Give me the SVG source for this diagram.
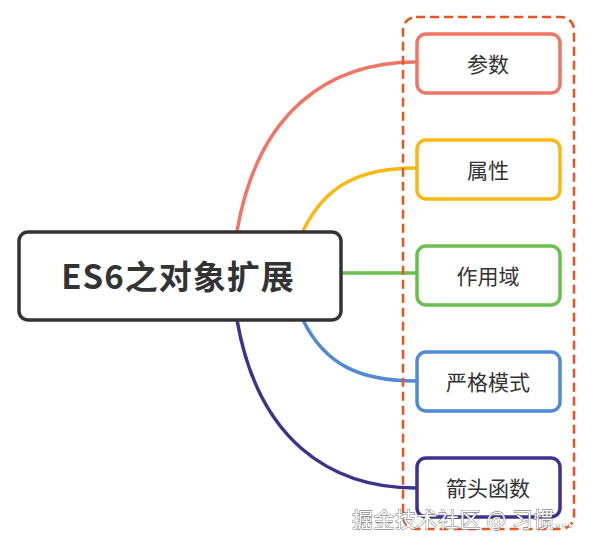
<svg xmlns="http://www.w3.org/2000/svg" width="600" height="547" viewBox="0 0 600 547">
<style>
.n rect{fill:#fff;stroke-width:3.5}
.t{font-family:"Noto Sans CJK SC","Noto Sans",sans-serif;font-size:21px;fill:#333;text-anchor:middle;dominant-baseline:central}
.c path{fill:none;stroke-width:3.5}
</style>
<rect width="600" height="547" fill="#fff"/>
<g id="connectors" class="c">
<path d="M237,231 C258,110 330,62 416,62" stroke="#f07565"/>
<path d="M303,231 C325,185 360,168 416,168" stroke="#f9b812"/>
<path d="M341,273 L416,273" stroke="#6bbf4e"/>
<path d="M303,320 C325,365 360,381 416,381" stroke="#4f8ad7"/>
<path d="M237,320 C258,440 330,488 416,488" stroke="#3c3290"/>
</g>
<g id="main">
<rect x="19" y="232" width="322" height="88" rx="9" fill="#fff" stroke="#333" stroke-width="3.5"/>
<text x="178" y="275" font-family="'Noto Sans CJK SC','Noto Sans',sans-serif" font-size="33" font-weight="bold" fill="#333" text-anchor="middle" dominant-baseline="central" letter-spacing="1">ES6之对象扩展</text>
</g>
<g id="n1" class="n"><rect x="417" y="34" width="143" height="59" rx="9" stroke="#f07565"/><text class="t" x="488" y="63">参数</text></g>
<g id="n2" class="n"><rect x="417" y="140" width="143" height="59" rx="9" stroke="#f9b812"/><text class="t" x="488" y="169">属性</text></g>
<g id="n3" class="n"><rect x="417" y="246" width="143" height="59" rx="9" stroke="#6bbf4e"/><text class="t" x="488" y="275">作用域</text></g>
<g id="n4" class="n"><rect x="417" y="352" width="143" height="59" rx="9" stroke="#4f8ad7"/><text class="t" x="488" y="381">严格模式</text></g>
<g id="n5" class="n"><rect x="417" y="458" width="143" height="59" rx="9" stroke="#3c3290"/><text class="t" x="488" y="487">箭头函数</text></g>
<g id="group">
<rect x="403" y="17" width="171" height="512" rx="13" fill="none" stroke="#e9531e" stroke-width="2.5" stroke-dasharray="9,5"/>
</g>
<text x="352" y="527" font-family="'Noto Sans CJK SC',sans-serif" font-size="21" fill="#fff" stroke="#555" stroke-width="0.8" paint-order="stroke" letter-spacing="0.5">掘金技术社区 @ 习惯...</text>
</svg>
